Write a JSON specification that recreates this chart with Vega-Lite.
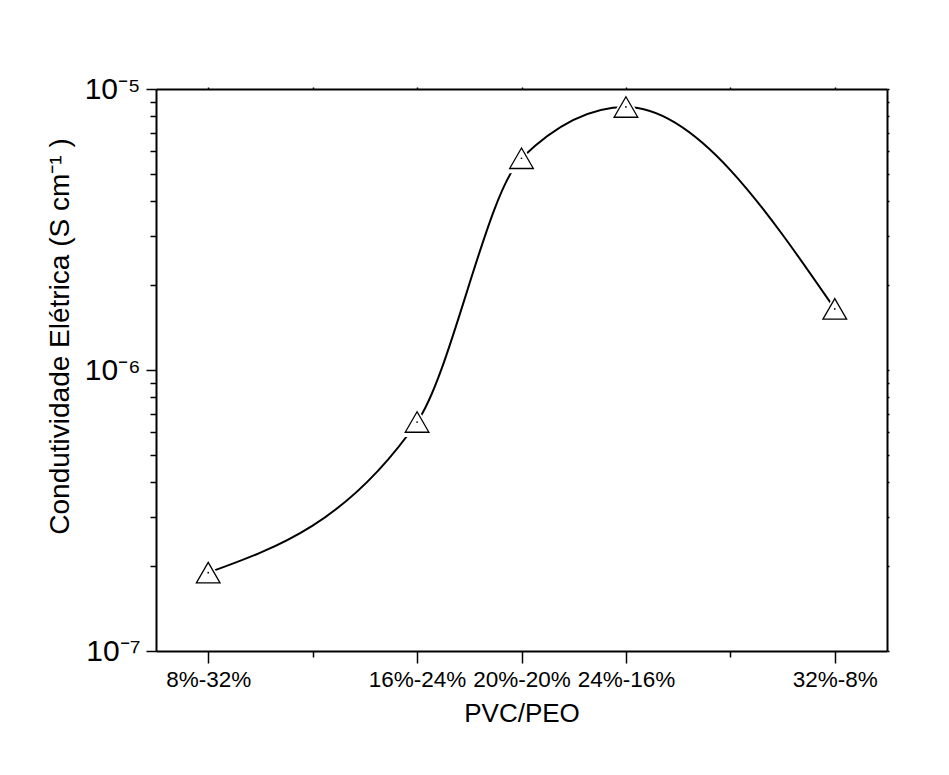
{
  "$schema": "https://vega.github.io/schema/vega-lite/v6.json",
  "width": 731,
  "height": 562,
  "autosize": {"type": "none"},
  "padding": {"left": 156, "top": 89, "right": 62, "bottom": 124},
  "background": "white",
  "config": {
    "view": {"stroke": null},
    "font": "Liberation Sans",
    "axis": {
      "domainColor": "black",
      "domainWidth": 2,
      "tickColor": "black",
      "tickWidth": 1.5,
      "labelColor": "black",
      "titleColor": "black",
      "labelFont": "Liberation Sans",
      "titleFont": "Liberation Sans",
      "titleFontWeight": "normal",
      "grid": false,
      "zindex": 1
    }
  },
  "data": {
    "values": [
      {"pvc": 8, "sigma": 1.90e-7},
      {"pvc": 16, "sigma": 6.53e-7},
      {"pvc": 20, "sigma": 5.67e-6},
      {"pvc": 24, "sigma": 8.63e-6},
      {"pvc": 32, "sigma": 1.65e-6}
    ]
  },
  "resolve": {"axis": {"x": "independent", "y": "independent"}},
  "layer": [
    {
      "mark": {"type": "line", "interpolate": "monotone", "color": "black", "strokeWidth": 2},
      "encoding": {
        "x": {
          "field": "pvc", "type": "quantitative",
          "scale": {"domain": [6, 34], "nice": false, "zero": false},
          "axis": {
            "orient": "bottom",
            "values": [8, 12, 16, 20, 24, 28, 32],
            "labelExpr": "(datum.value == 12 || datum.value == 28) ? '' : datum.value + '%-' + (40 - datum.value) + '%'",
            "tickSize": {"condition": {"test": "datum.value == 12 || datum.value == 28", "value": 6}, "value": 12},
            "labelFontSize": 22.5,
            "labelPadding": 5,
            "labelFlush": false,
            "labelOverlap": false,
            "title": "PVC/PEO",
            "titleFontSize": 26,
            "titleBaseline": "middle",
            "titleY": 62
          }
        },
        "y": {
          "field": "sigma", "type": "quantitative",
          "scale": {"type": "log", "domain": [1e-7, 1e-5], "nice": false},
          "axis": {
            "orient": "left",
            "values": [1e-7, 2e-7, 3e-7, 4e-7, 5e-7, 6e-7, 7e-7, 8e-7, 9e-7, 1e-6, 2e-6, 3e-6, 4e-6, 5e-6, 6e-6, 7e-6, 8e-6, 9e-6, 1e-5],
            "labelExpr": "abs(log(datum.value)/LN10 - round(log(datum.value)/LN10)) < 0.001 ? (round(log(datum.value)/LN10) == -5 ? '10⁻⁵' : (round(log(datum.value)/LN10) == -6 ? '10⁻⁶' : '10⁻⁷')) : ''",
            "tickSize": {"condition": {"test": "abs(log(datum.value)/LN10 - round(log(datum.value)/LN10)) < 0.001", "value": 10}, "value": 6},
            "labelFontSize": 30,
            "labelPadding": 6,
            "labelFlush": false,
            "labelOverlap": false,
            "title": "Condutividade Elétrica (S cm⁻¹ )",
            "titleFontSize": 28,
            "titleAngle": -90,
            "titleAlign": "center",
            "titleBaseline": "middle",
            "titleX": -96,
            "titleY": 247
          }
        }
      }
    },
    {
      "mark": {"type": "point", "shape": "triangle-up", "size": 1200, "filled": true, "fill": "white", "strokeWidth": 0, "opacity": 1},
      "encoding": {
        "x": {"field": "pvc", "type": "quantitative", "axis": null},
        "y": {"field": "sigma", "type": "quantitative", "axis": null}
      }
    },
    {
      "mark": {"type": "point", "shape": "triangle-up", "size": 560, "filled": true, "fill": "white", "stroke": "black", "strokeWidth": 1.3, "opacity": 1},
      "encoding": {
        "x": {"field": "pvc", "type": "quantitative", "axis": null},
        "y": {"field": "sigma", "type": "quantitative", "axis": null}
      }
    },
    {
      "mark": {"type": "point", "shape": "circle", "size": 3, "filled": true, "color": "black", "opacity": 1},
      "encoding": {
        "x": {"field": "pvc", "type": "quantitative", "axis": null},
        "y": {"field": "sigma", "type": "quantitative", "axis": null}
      }
    },
    {
      "mark": {"type": "point", "opacity": 0},
      "encoding": {
        "x": {
          "field": "pvc", "type": "quantitative",
          "axis": {"orient": "top", "values": [8, 12, 16, 20, 24, 28, 32], "labels": false, "tickSize": 2, "title": null}
        },
        "y": {
          "field": "sigma", "type": "quantitative",
          "axis": {
            "orient": "right",
            "values": [1e-7, 2e-7, 3e-7, 4e-7, 5e-7, 6e-7, 7e-7, 8e-7, 9e-7, 1e-6, 2e-6, 3e-6, 4e-6, 5e-6, 6e-6, 7e-6, 8e-6, 9e-6, 1e-5],
            "labels": false, "tickSize": 2, "title": null
          }
        }
      }
    }
  ]
}
